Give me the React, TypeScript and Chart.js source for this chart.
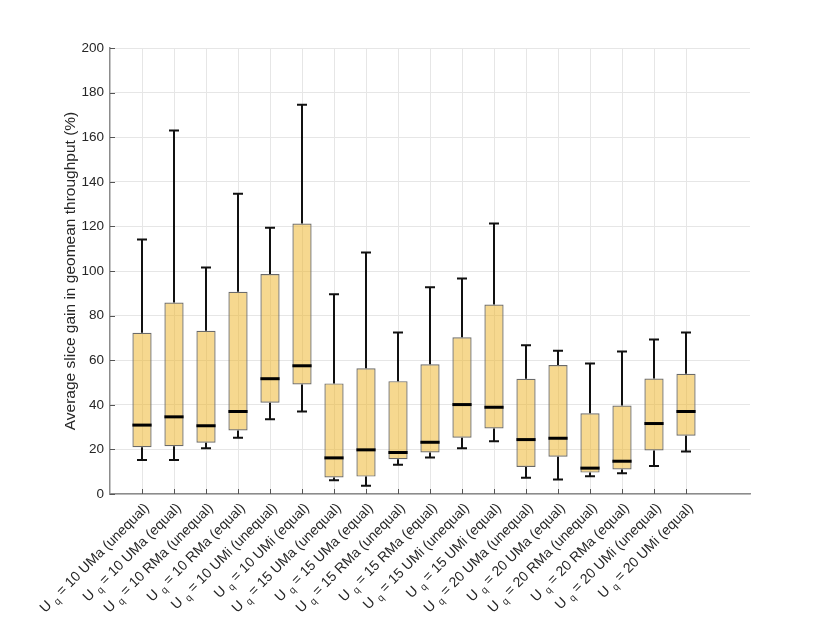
import React, { useEffect, useRef } from "react";
import { Chart, registerables } from "chart.js";

Chart.register(...registerables);

const categories = [
  "10 UMa (unequal)", "10 UMa (equal)", "10 RMa (unequal)", "10 RMa (equal)",
  "10 UMi (unequal)", "10 UMi (equal)", "15 UMa (unequal)", "15 UMa (equal)",
  "15 RMa (unequal)", "15 RMa (equal)", "15 UMi (unequal)", "15 UMi (equal)",
  "20 UMa (unequal)", "20 UMa (equal)", "20 RMa (unequal)", "20 RMa (equal)",
  "20 UMi (unequal)", "20 UMi (equal)",
];
const whiskerLow = [15.3, 15.3, 20.5, 25.2, 33.5, 37.0, 6.2, 3.7, 13.1, 16.4, 20.5, 23.7, 7.3, 6.5, 8.0, 9.3, 12.6, 19.1];
const q1 = [21.0, 21.4, 23.0, 28.5, 40.9, 49.1, 7.4, 7.8, 15.6, 18.6, 25.2, 29.4, 12.1, 16.7, 9.6, 11.0, 19.5, 26.1];
const median = [30.9, 34.6, 30.6, 37.0, 51.7, 57.5, 16.2, 19.8, 18.6, 23.2, 40.1, 38.9, 24.4, 25.0, 11.6, 14.7, 31.6, 37.0];
const q3 = [72.3, 85.9, 73.2, 90.7, 98.6, 121.3, 49.6, 56.4, 50.6, 58.2, 70.3, 85.0, 51.7, 57.8, 36.2, 39.7, 51.8, 53.9];
const whiskerHigh = [114.1, 163.0, 101.6, 134.6, 119.4, 174.5, 89.6, 108.3, 72.4, 92.7, 96.6, 121.3, 66.7, 64.2, 58.5, 63.9, 69.3, 72.4];
const yTicks = [0, 20, 40, 60, 80, 100, 120, 140, 160, 180, 200];

const FONT = '"Liberation Sans", Arial, Helvetica, sans-serif';
const TEXT = "#262626";

const boxPlugin = {
  id: "boxExtras",
  afterDatasetsDraw(chart: any) {
    const { ctx, chartArea } = chart;
    const xs = chart.scales.x;
    const ys = chart.scales.y;
    const meta = chart.getDatasetMeta(0);
    ctx.save();
    // inner ticks
    ctx.strokeStyle = "#555";
    ctx.lineWidth = 1;
    yTicks.forEach((v) => {
      const y = Math.round(ys.getPixelForValue(v)) + 0.5;
      ctx.beginPath();
      ctx.moveTo(chartArea.left, y);
      ctx.lineTo(chartArea.left + 5, y);
      ctx.stroke();
    });
    categories.forEach((_, i) => {
      const x = Math.round(xs.getPixelForValue(i + 1)) + 0.5;
      ctx.beginPath();
      ctx.moveTo(x, chartArea.bottom);
      ctx.lineTo(x, chartArea.bottom - 5);
      ctx.stroke();
    });
    categories.forEach((_, i) => {
      const x = xs.getPixelForValue(i + 1);
      const el = meta.data[i];
      const half = el ? el.width / 2 : 10;
      const cap = 5;
      const yHi = ys.getPixelForValue(whiskerHigh[i]);
      const yQ3 = ys.getPixelForValue(q3[i]);
      const yQ1 = ys.getPixelForValue(q1[i]);
      const yLo = ys.getPixelForValue(whiskerLow[i]);
      const yMed = ys.getPixelForValue(median[i]);
      ctx.strokeStyle = "#111";
      ctx.lineWidth = 2;
      ctx.beginPath();
      ctx.moveTo(x, yQ3);
      ctx.lineTo(x, yHi);
      ctx.moveTo(x - cap, yHi);
      ctx.lineTo(x + cap, yHi);
      ctx.moveTo(x, yQ1);
      ctx.lineTo(x, yLo);
      ctx.moveTo(x - cap, yLo);
      ctx.lineTo(x + cap, yLo);
      ctx.stroke();
      ctx.strokeStyle = "#000";
      ctx.lineWidth = 3;
      ctx.beginPath();
      ctx.moveTo(x - half, yMed);
      ctx.lineTo(x + half, yMed);
      ctx.stroke();
    });
    ctx.restore();
  },
  afterDraw(chart: any) {
    const { ctx, chartArea } = chart;
    const xs = chart.scales.x;
    const size = 14;
    ctx.save();
    ctx.fillStyle = TEXT;
    ctx.textBaseline = "middle";
    ctx.textAlign = "left";
    categories.forEach((c, i) => {
      const x = xs.getPixelForValue(i + 1);
      const rest = " = " + c;
      ctx.font = `${size}px ${FONT}`;
      const wU = ctx.measureText("U").width;
      const wRest = ctx.measureText(rest).width;
      ctx.font = `${size * 0.72}px ${FONT}`;
      const wQ = ctx.measureText("q").width;
      const gap = 4;
      const total = wU + gap + wQ + wRest;
      ctx.save();
      ctx.translate(x + 5, chartArea.bottom + 12);
      ctx.rotate(-Math.PI / 4);
      let px = -total;
      ctx.font = `${size}px ${FONT}`;
      ctx.fillText("U", px, 0);
      px += wU + gap;
      ctx.font = `${size * 0.72}px ${FONT}`;
      ctx.fillText("q", px, 4.5);
      px += wQ;
      ctx.font = `${size}px ${FONT}`;
      ctx.fillText(rest, px, 0);
      ctx.restore();
    });
    ctx.restore();
  },
};

export default function App() {
  const ref = useRef<HTMLCanvasElement | null>(null);
  useEffect(() => {
    if (!ref.current) return;
    const chart = new Chart(ref.current, {
      type: "bar",
      data: {
        datasets: [
          {
            label: "box",
            data: categories.map((_, i) => ({ x: i + 1, y: [q1[i], q3[i]] })) as any,
            backgroundColor: "rgba(237,177,32,0.5)",
            borderColor: "#6a6a6a",
            borderWidth: 1.2,
            borderSkipped: false,
            categoryPercentage: 1,
            barPercentage: 0.6,
          },
        ],
      },
      options: {
        animation: false,
        responsive: true,
        maintainAspectRatio: false,
        layout: { padding: { left: 58, top: 48, right: 80, bottom: 0 } },
        plugins: { legend: { display: false }, tooltip: { enabled: false } },
        scales: {
          x: {
            type: "linear",
            min: 0,
            max: 20,
            offset: false,
            afterBuildTicks: (scale: any) => {
              scale.ticks = categories.map((_, i) => ({ value: i + 1 }));
            },
            afterFit: (scale: any) => {
              scale.height = 130;
            },
            ticks: { display: false },
            grid: { color: "#e6e6e6", lineWidth: 1, drawTicks: false, offset: false },
            border: { display: true, color: "#8c8c8c", width: 1.5 },
          },
          y: {
            min: 0,
            max: 200,
            afterBuildTicks: (scale: any) => {
              scale.ticks = yTicks.map((v) => ({ value: v }));
            },
            afterFit: (scale: any) => {
              scale.width = 52;
            },
            ticks: {
              color: TEXT,
              font: { family: FONT, size: 13.5 },
              padding: 6,
            },
            grid: { color: "#e6e6e6", lineWidth: 1, drawTicks: false },
            border: { display: true, color: "#8c8c8c", width: 1.5 },
            title: {
              display: true,
              text: "Average slice gain in geomean throughput (%)",
              color: TEXT,
              font: { family: FONT, size: 15.5 },
              padding: { top: 3, bottom: 3 },
            },
          },
        },
      },
      plugins: [boxPlugin],
    });
    return () => chart.destroy();
  }, []);
  return (
    <div style={{ position: "absolute", left: 0, top: 0, width: 830, height: 624, background: "#fff" }}>
      <canvas ref={ref} />
    </div>
  );
}
